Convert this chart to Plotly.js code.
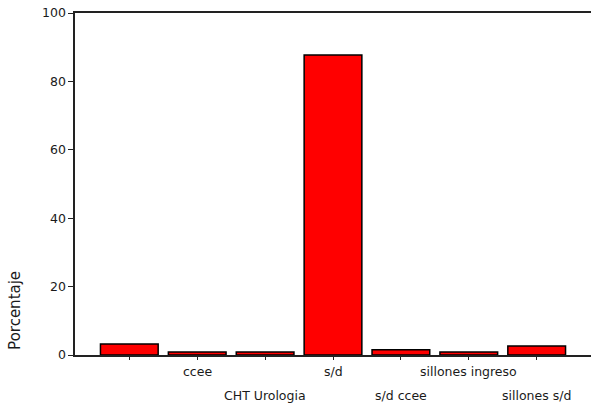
<!DOCTYPE html>
<html>
<head>
<meta charset="utf-8">
<script src="https://cdn.plot.ly/plotly-3.0.1.min.js"></script>
<style>html,body{margin:0;padding:0;background:#fff;}#chart{width:591px;height:407px;}</style>
</head>
<body>
<div id="chart"></div>
<script>
const categories = ["", "ccee", "CHT Urologia", "s/d", "s/d ccee", "sillones ingreso", "sillones s/d"];
const percentages = [3.2, 0.9, 0.9, 87.7, 1.5, 0.9, 2.6];
const yTicks = [0, 20, 40, 60, 80, 100];
const yLabel = "Porcentaje";

const font = "DejaVu Sans, Verdana, sans-serif";
const xs = categories.map((c, i) => i);
const annotations = categories.map((c, i) => ({
  x: xs[i], xref: 'x', y: 0, yref: 'paper',
  text: c, showarrow: false,
  yanchor: 'middle', xanchor: 'center',
  yshift: (i % 2 === 1) ? -16 : -40,
  font: {family: font, size: 12.5, color: '#1a1a1a'}
}));
annotations.push({
  x: 0, xref: 'paper', xshift: -60, y: 0.129, yref: 'paper',
  text: yLabel, textangle: -90, showarrow: false,
  xanchor: 'center', yanchor: 'middle',
  font: {family: font, size: 15, color: '#1a1a1a'}
});

const data = [{
  type: 'bar', x: xs, y: percentages,
  marker: {color: '#ff0000', line: {color: '#000', width: 1.5}},
  hoverinfo: 'none'
}];
const layout = {
  width: 591, height: 407,
  margin: {l: 75, r: 0, t: 13, b: 52},
  paper_bgcolor: '#fff', plot_bgcolor: '#fff',
  showlegend: false, bargap: 0.15,
  font: {family: font, size: 12, color: '#1a1a1a'},
  xaxis: {
    range: [-0.8, 6.8], tickvals: xs, ticktext: xs.map(() => ''),
    showgrid: false, zeroline: false, showline: true, mirror: true,
    linecolor: '#222', linewidth: 1.6, ticks: 'outside', ticklen: 3,
    tickcolor: '#222', tickwidth: 1, fixedrange: true
  },
  yaxis: {
    range: [0, 100], tickvals: yTicks, ticktext: yTicks.map(String),
    showgrid: false, zeroline: false, showline: true,
    linecolor: '#222', linewidth: 1.6, ticks: 'outside', ticklen: 5,
    tickcolor: '#222', tickwidth: 1, tickfont: {family: font, size: 12.5, color: '#1a1a1a'},
    fixedrange: true
  },
  annotations: annotations
};
Plotly.newPlot('chart', data, layout, {displayModeBar: false, staticPlot: true});
</script>
</body>
</html>
